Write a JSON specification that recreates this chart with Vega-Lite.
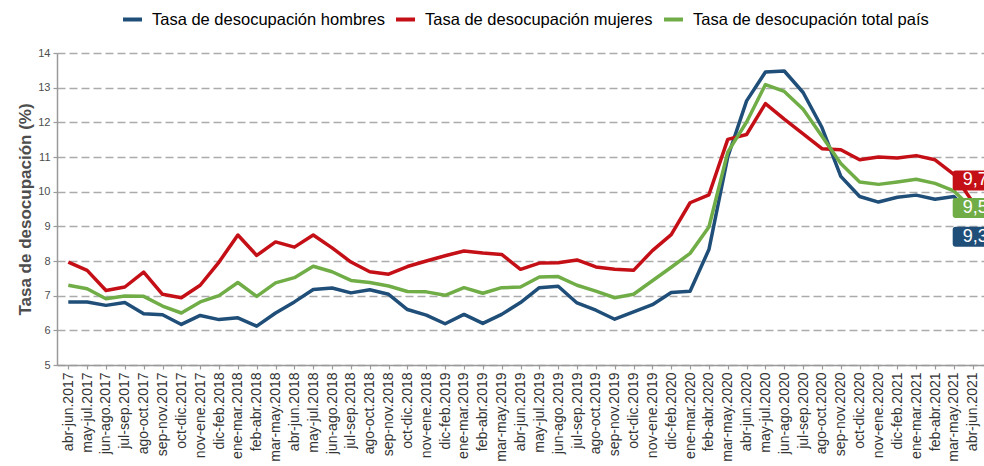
{
  "$schema": "https://vega.github.io/schema/vega-lite/v6.json",
  "width": 927,
  "height": 312,
  "autosize": {"type": "none"},
  "padding": {"left": 57, "top": 53, "right": 0, "bottom": 101},
  "background": "white",
  "config": {"view": {"stroke": null}, "font": "Liberation Sans"},
  "datasets": {
    "tasas": [
      {"periodo": "abr-jun.2017", "hombres": 6.82, "mujeres": 7.97, "total": 7.30},
      {"periodo": "may-jul.2017", "hombres": 6.82, "mujeres": 7.73, "total": 7.20},
      {"periodo": "jun-ago.2017", "hombres": 6.72, "mujeres": 7.15, "total": 6.91},
      {"periodo": "jul-sep.2017", "hombres": 6.80, "mujeres": 7.25, "total": 6.99},
      {"periodo": "ago-oct.2017", "hombres": 6.48, "mujeres": 7.68, "total": 6.98},
      {"periodo": "sep-nov.2017", "hombres": 6.45, "mujeres": 7.04, "total": 6.70},
      {"periodo": "oct-dic.2017", "hombres": 6.17, "mujeres": 6.94, "total": 6.50},
      {"periodo": "nov-ene.2017", "hombres": 6.43, "mujeres": 7.30, "total": 6.82},
      {"periodo": "dic-feb.2018", "hombres": 6.31, "mujeres": 7.97, "total": 7.00},
      {"periodo": "ene-mar.2018", "hombres": 6.36, "mujeres": 8.75, "total": 7.38},
      {"periodo": "feb-abr.2018", "hombres": 6.12, "mujeres": 8.16, "total": 6.98},
      {"periodo": "mar-may.2018", "hombres": 6.50, "mujeres": 8.55, "total": 7.37},
      {"periodo": "abr-jun.2018", "hombres": 6.82, "mujeres": 8.40, "total": 7.52},
      {"periodo": "may-jul.2018", "hombres": 7.18, "mujeres": 8.75, "total": 7.85},
      {"periodo": "jun-ago.2018", "hombres": 7.22, "mujeres": 8.38, "total": 7.69},
      {"periodo": "jul-sep.2018", "hombres": 7.08, "mujeres": 7.97, "total": 7.44},
      {"periodo": "ago-oct.2018", "hombres": 7.17, "mujeres": 7.69, "total": 7.38},
      {"periodo": "sep-nov.2018", "hombres": 7.04, "mujeres": 7.62, "total": 7.28},
      {"periodo": "oct-dic.2018", "hombres": 6.60, "mujeres": 7.84, "total": 7.12},
      {"periodo": "nov-ene.2018", "hombres": 6.44, "mujeres": 8.00, "total": 7.11},
      {"periodo": "dic-feb.2019", "hombres": 6.19, "mujeres": 8.15, "total": 7.01},
      {"periodo": "ene-mar.2019", "hombres": 6.46, "mujeres": 8.29, "total": 7.23},
      {"periodo": "feb-abr.2019", "hombres": 6.20, "mujeres": 8.23, "total": 7.07},
      {"periodo": "mar-may.2019", "hombres": 6.46, "mujeres": 8.19, "total": 7.23},
      {"periodo": "abr-jun.2019", "hombres": 6.80, "mujeres": 7.76, "total": 7.25},
      {"periodo": "may-jul.2019", "hombres": 7.23, "mujeres": 7.94, "total": 7.54},
      {"periodo": "jun-ago.2019", "hombres": 7.27, "mujeres": 7.95, "total": 7.55},
      {"periodo": "jul-sep.2019", "hombres": 6.79, "mujeres": 8.03, "total": 7.30},
      {"periodo": "ago-oct.2019", "hombres": 6.58, "mujeres": 7.83, "total": 7.13},
      {"periodo": "sep-nov.2019", "hombres": 6.32, "mujeres": 7.76, "total": 6.94},
      {"periodo": "oct-dic.2019", "hombres": 6.53, "mujeres": 7.73, "total": 7.04},
      {"periodo": "nov-ene.2019", "hombres": 6.74, "mujeres": 8.30, "total": 7.43},
      {"periodo": "dic-feb.2020", "hombres": 7.09, "mujeres": 8.76, "total": 7.82},
      {"periodo": "ene-mar.2020", "hombres": 7.13, "mujeres": 9.68, "total": 8.22},
      {"periodo": "feb-abr.2020", "hombres": 8.33, "mujeres": 9.91, "total": 8.98},
      {"periodo": "mar-may.2020", "hombres": 11.00, "mujeres": 11.51, "total": 11.14},
      {"periodo": "abr-jun.2020", "hombres": 12.62, "mujeres": 11.65, "total": 12.01},
      {"periodo": "may-jul.2020", "hombres": 13.45, "mujeres": 12.54, "total": 13.09},
      {"periodo": "jun-ago.2020", "hombres": 13.48, "mujeres": 12.09, "total": 12.89},
      {"periodo": "jul-sep.2020", "hombres": 12.86, "mujeres": 11.67, "total": 12.38},
      {"periodo": "ago-oct.2020", "hombres": 11.85, "mujeres": 11.24, "total": 11.60},
      {"periodo": "sep-nov.2020", "hombres": 10.44, "mujeres": 11.21, "total": 10.81},
      {"periodo": "oct-dic.2020", "hombres": 9.86, "mujeres": 10.92, "total": 10.28},
      {"periodo": "nov-ene.2020", "hombres": 9.70, "mujeres": 11.00, "total": 10.21},
      {"periodo": "dic-feb.2021", "hombres": 9.84, "mujeres": 10.97, "total": 10.28},
      {"periodo": "ene-mar.2021", "hombres": 9.90, "mujeres": 11.04, "total": 10.36},
      {"periodo": "feb-abr.2021", "hombres": 9.78, "mujeres": 10.92, "total": 10.24},
      {"periodo": "mar-may.2021", "hombres": 9.86, "mujeres": 10.50, "total": 10.02},
      {"periodo": "abr-jun.2021", "hombres": 9.30, "mujeres": 9.70, "total": 9.50}
    ],
    "etiquetas": [
      {"periodo": "abr-jun.2021", "serie": "mujeres", "valor": 9.7, "texto": "9,7"},
      {"periodo": "abr-jun.2021", "serie": "total", "valor": 9.5, "texto": "9,5"},
      {"periodo": "abr-jun.2021", "serie": "hombres", "valor": 9.3, "texto": "9,3"}
    ]
  },
  "encoding": {
    "x": {
      "field": "periodo",
      "type": "ordinal",
      "scale": {
        "type": "point",
        "padding": 0.6,
        "domain": ["abr-jun.2017", "may-jul.2017", "jun-ago.2017", "jul-sep.2017", "ago-oct.2017", "sep-nov.2017", "oct-dic.2017", "nov-ene.2017", "dic-feb.2018", "ene-mar.2018", "feb-abr.2018", "mar-may.2018", "abr-jun.2018", "may-jul.2018", "jun-ago.2018", "jul-sep.2018", "ago-oct.2018", "sep-nov.2018", "oct-dic.2018", "nov-ene.2018", "dic-feb.2019", "ene-mar.2019", "feb-abr.2019", "mar-may.2019", "abr-jun.2019", "may-jul.2019", "jun-ago.2019", "jul-sep.2019", "ago-oct.2019", "sep-nov.2019", "oct-dic.2019", "nov-ene.2019", "dic-feb.2020", "ene-mar.2020", "feb-abr.2020", "mar-may.2020", "abr-jun.2020", "may-jul.2020", "jun-ago.2020", "jul-sep.2020", "ago-oct.2020", "sep-nov.2020", "oct-dic.2020", "nov-ene.2020", "dic-feb.2021", "ene-mar.2021", "feb-abr.2021", "mar-may.2021", "abr-jun.2021"]
      },
      "axis": {
        "title": null,
        "labelAngle": -90,
        "labelFontSize": 14,
        "labelColor": "#333333",
        "labelPadding": 3,
        "labelOverlap": false,
        "domainColor": "#9a9a9a",
        "domainWidth": 1.5,
        "tickColor": "#9a9a9a",
        "tickSize": 4,
        "tickWidth": 1.2,
        "grid": false
      }
    },
    "y": {
      "field": "valor",
      "type": "quantitative",
      "scale": {"domain": [5, 14], "nice": false, "zero": false},
      "axis": {
        "title": "Tasa de desocupación (%)",
        "values": [5, 6, 7, 8, 9, 10, 11, 12, 13, 14],
        "grid": true,
        "gridDash": [8, 4],
        "gridColor": "#ababab",
        "gridWidth": 1.3,
        "domainColor": "#9a9a9a",
        "domainWidth": 1.5,
        "tickColor": "#9a9a9a",
        "tickSize": 4,
        "tickWidth": 1.2,
        "labelColor": "#4d4d4d",
        "labelFontSize": 11,
        "labelPadding": 3,
        "titleFontSize": 17,
        "titleFontWeight": "bold",
        "titleColor": "#4d4d4d",
        "titleX": -32,
        "titleY": 156,
        "titleAngle": 270,
        "titleAlign": "center",
        "titleBaseline": "middle"
      }
    }
  },
  "layer": [
    {
      "data": {"name": "tasas"},
      "transform": [{"fold": ["hombres", "mujeres", "total"], "as": ["serie", "valor"]}],
      "mark": {"type": "line", "strokeWidth": 3.5, "strokeJoin": "round"},
      "encoding": {
        "color": {
          "field": "serie",
          "type": "nominal",
          "scale": {"domain": ["hombres", "mujeres", "total"], "range": ["#1F4E79", "#C40F16", "#70AD47"]},
          "legend": {
            "orient": "none",
            "legendX": 64,
            "legendY": -45,
            "direction": "horizontal",
            "title": null,
            "symbolType": "stroke",
            "symbolStrokeWidth": 4,
            "symbolSize": 361,
            "labelFontSize": 16.5,
            "labelColor": "#000000",
            "labelOffset": 8,
            "labelLimit": 400,
            "columnPadding": 3,
            "labelExpr": "'Tasa de desocupación ' + (datum.label == 'total' ? 'total país' : datum.label)"
          }
        }
      }
    },
    {
      "data": {"name": "etiquetas"},
      "transform": [{"filter": "datum.serie == 'mujeres'"}],
      "layer": [
        {"mark": {"type": "point", "shape": "M-0.85,-1.58H1.6V-0.58H-0.85Q-1,-0.58 -1,-0.73V-1.43Q-1,-1.58 -0.85,-1.58Z", "size": 1600, "filled": true, "color": "#C40F16", "opacity": 1, "strokeWidth": 0}},
        {"mark": {"type": "text", "align": "left", "baseline": "middle", "dx": -10, "dy": -21.6, "fontSize": 18, "color": "white"}, "encoding": {"text": {"field": "texto"}}}
      ]
    },
    {
      "data": {"name": "etiquetas"},
      "transform": [{"filter": "datum.serie == 'total'"}],
      "layer": [
        {"mark": {"type": "point", "shape": "M-0.85,-0.55H1.6V0.45H-0.85Q-1,0.45 -1,0.3V-0.4Q-1,-0.55 -0.85,-0.55Z", "size": 1600, "filled": true, "color": "#70AD47", "opacity": 1, "strokeWidth": 0}},
        {"mark": {"type": "text", "align": "left", "baseline": "middle", "dx": -10, "dy": -1, "fontSize": 18, "color": "white"}, "encoding": {"text": {"field": "texto"}}}
      ]
    },
    {
      "data": {"name": "etiquetas"},
      "transform": [{"filter": "datum.serie == 'hombres'"}],
      "layer": [
        {"mark": {"type": "point", "shape": "M-0.85,0.535H1.6V1.535H-0.85Q-1,1.535 -1,1.385V0.685Q-1,0.535 -0.85,0.535Z", "size": 1600, "filled": true, "color": "#1F4E79", "opacity": 1, "strokeWidth": 0}},
        {"mark": {"type": "text", "align": "left", "baseline": "middle", "dx": -10, "dy": 20.7, "fontSize": 18, "color": "white"}, "encoding": {"text": {"field": "texto"}}}
      ]
    }
  ]
}
